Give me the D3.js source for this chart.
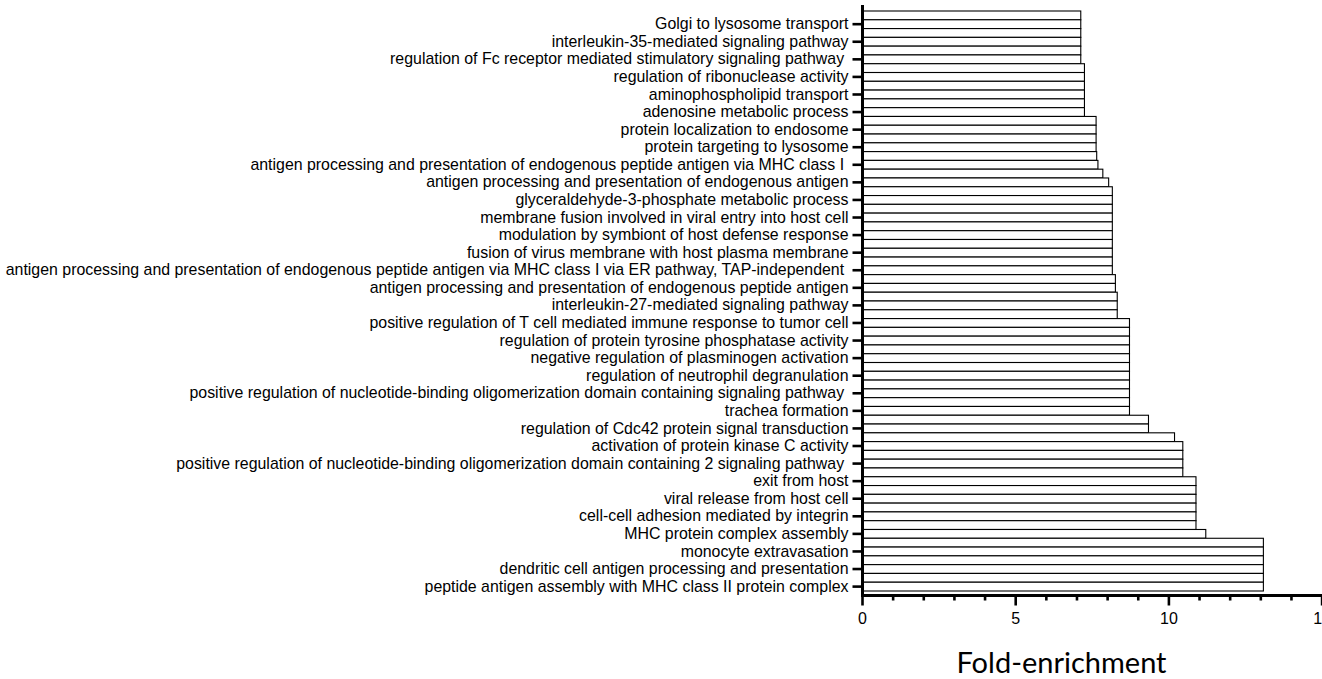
<!DOCTYPE html>
<html>
<head>
<meta charset="utf-8">
<script src="https://cdn.jsdelivr.net/npm/d3@7"></script>
<style>
  body { margin: 0; background: #fff; }
  svg { display: block; }
  .ylab text { white-space: pre; }
</style>
</head>
<body>
<svg id="chart"></svg>
<script>
// Labels shown on the axis (the chart only labels every other bar)
const labels = [
  'Golgi to lysosome transport',
  'interleukin-35-mediated signaling pathway',
  'regulation of Fc receptor mediated stimulatory signaling pathway ',
  'regulation of ribonuclease activity',
  'aminophospholipid transport',
  'adenosine metabolic process',
  'protein localization to endosome',
  'protein targeting to lysosome',
  'antigen processing and presentation of endogenous peptide antigen via MHC class I ',
  'antigen processing and presentation of endogenous antigen',
  'glyceraldehyde-3-phosphate metabolic process',
  'membrane fusion involved in viral entry into host cell',
  'modulation by symbiont of host defense response',
  'fusion of virus membrane with host plasma membrane',
  'antigen processing and presentation of endogenous peptide antigen via MHC class I via ER pathway, TAP-independent ',
  'antigen processing and presentation of endogenous peptide antigen',
  'interleukin-27-mediated signaling pathway',
  'positive regulation of T cell mediated immune response to tumor cell',
  'regulation of protein tyrosine phosphatase activity',
  'negative regulation of plasminogen activation',
  'regulation of neutrophil degranulation',
  'positive regulation of nucleotide-binding oligomerization domain containing signaling pathway ',
  'trachea formation',
  'regulation of Cdc42 protein signal transduction',
  'activation of protein kinase C activity',
  'positive regulation of nucleotide-binding oligomerization domain containing 2 signaling pathway ',
  'exit from host',
  'viral release from host cell',
  'cell-cell adhesion mediated by integrin',
  'MHC protein complex assembly',
  'monocyte extravasation',
  'dendritic cell antigen processing and presentation',
  'peptide antigen assembly with MHC class II protein complex'
];

// Fold-enrichment of all 66 bars, top to bottom
const values = [
  7.14, 7.14, 7.14, 7.14, 7.14, 7.14,
  7.26, 7.26, 7.26, 7.26, 7.26, 7.26,
  7.64, 7.64, 7.64, 7.64, 7.66, 7.70,
  7.86, 8.05,
  8.17, 8.17, 8.17, 8.17, 8.17, 8.17, 8.17, 8.17, 8.17, 8.17,
  8.27, 8.27, 8.33, 8.33, 8.33,
  8.73, 8.73, 8.73, 8.73, 8.73, 8.73, 8.73, 8.73, 8.73, 8.73, 8.73,
  9.35, 9.35, 10.2,
  10.47, 10.47, 10.47, 10.47,
  10.90, 10.90, 10.90, 10.90, 10.90, 10.90,
  11.22,
  13.10, 13.10, 13.10, 13.10, 13.10, 13.10
];

const xMajor = [0, 5, 10, 15];
const xMinor = [1, 2, 3, 4, 6, 7, 8, 9, 11, 12, 13, 14];
const xTitle = 'Fold-enrichment';

const W = 1322, H = 679;
const svg = d3.select('#chart').attr('width', W).attr('height', H);

const x = d3.scaleLinear().domain([0, 15]).range([862, 1321.6]);
const y = d3.scaleBand().domain(d3.range(values.length)).range([11, 591]).padding(0);

// bars
svg.append('g')
  .selectAll('rect')
  .data(values)
  .enter()
  .append('rect')
  .attr('x', x(0))
  .attr('y', (d, i) => y(i))
  .attr('width', d => x(d) - x(0))
  .attr('height', y.bandwidth())
  .attr('fill', '#fff')
  .attr('stroke', '#000')
  .attr('stroke-width', 1.1);

// y axis (every other bar labelled)
const labelled = d3.range(1, values.length, 2);
const yAxis = svg.append('g')
  .attr('class', 'ylab')
  .attr('transform', 'translate(862.5,0)')
  .call(d3.axisLeft(y)
    .tickValues(labelled)
    .tickFormat(i => labels[(i - 1) / 2])
    .tickSize(10)
    .tickSizeOuter(0)
    .tickPadding(4));
yAxis.select('.domain').remove();
yAxis.selectAll('line').attr('stroke', '#000').attr('stroke-width', 2.6);
yAxis.selectAll('text')
  .attr('fill', '#000')
  .style('font-family', '"Liberation Sans", Arial, sans-serif')
  .style('font-size', '15.9px');

svg.append('line')
  .attr('x1', 862.5).attr('x2', 862.5)
  .attr('y1', y.range()[0] - 6).attr('y2', y.range()[1] + 6)
  .attr('stroke', '#000').attr('stroke-width', 3);

// x axis
const axisY = 595.5;
const xAxis = svg.append('g')
  .attr('transform', `translate(0,${axisY})`)
  .call(d3.axisBottom(x)
    .tickValues(xMajor)
    .tickFormat(d3.format('d'))
    .tickSize(10)
    .tickSizeOuter(0)
    .tickPadding(7));
xAxis.select('.domain').remove();
xAxis.selectAll('line').attr('stroke', '#000').attr('stroke-width', 2.6);
xAxis.selectAll('text')
  .attr('fill', '#000')
  .style('font-family', '"Liberation Sans", Arial, sans-serif')
  .style('font-size', '16px');

const xMinorAxis = svg.append('g')
  .attr('transform', `translate(0,${axisY})`)
  .call(d3.axisBottom(x).tickValues(xMinor).tickFormat('').tickSize(5).tickSizeOuter(0));
xMinorAxis.select('.domain').remove();
xMinorAxis.selectAll('line').attr('stroke', '#000').attr('stroke-width', 2.6);

svg.append('line')
  .attr('x1', 861).attr('x2', W)
  .attr('y1', axisY).attr('y2', axisY)
  .attr('stroke', '#000').attr('stroke-width', 3);

// axis title
svg.append('text')
  .attr('x', 1061.5)
  .attr('y', 673)
  .attr('text-anchor', 'middle')
  .style('font-family', 'Lato, "Open Sans", sans-serif')
  .style('font-size', '29px')
  .attr('fill', '#000')
  .text(xTitle);
</script>
</body>
</html>
